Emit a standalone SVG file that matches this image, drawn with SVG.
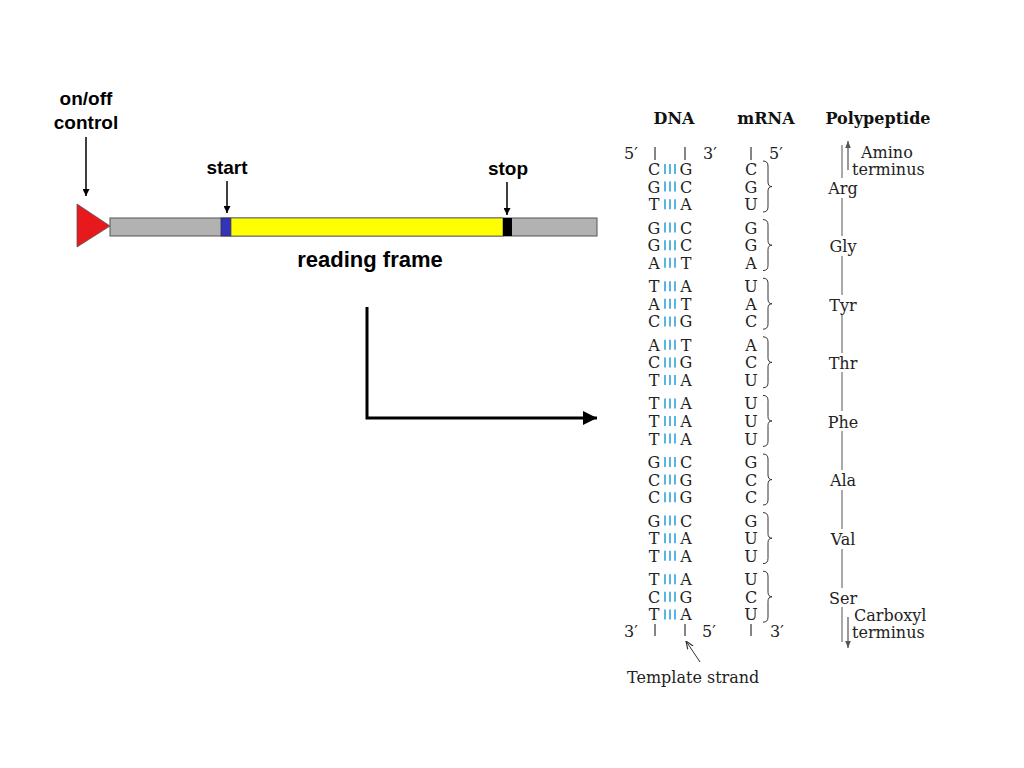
<svg xmlns="http://www.w3.org/2000/svg" width="1024" height="768" viewBox="0 0 1024 768">
<defs>
<marker id="ah" viewBox="0 0 10 10" refX="10" refY="5" markerWidth="7" markerHeight="7" markerUnits="userSpaceOnUse" orient="auto"><path d="M0,0 L10,5 L0,10 z" fill="#000"/></marker>
<marker id="ahBig" viewBox="0 0 10 10" refX="10" refY="5" markerWidth="18" markerHeight="14" markerUnits="userSpaceOnUse" orient="auto"><path d="M0,0 L10,5 L0,10 z" fill="#000"/></marker>
<marker id="ahGray" viewBox="0 0 10 10" refX="10" refY="5" markerWidth="7" markerHeight="7" markerUnits="userSpaceOnUse" orient="auto"><path d="M0,1 L10,5 L0,9 z" fill="#555"/></marker>
<marker id="ahOpen" viewBox="0 0 10 10" refX="10" refY="5" markerWidth="8" markerHeight="8" markerUnits="userSpaceOnUse" orient="auto"><path d="M0,1 L10,5 L0,9" fill="none" stroke="#333" stroke-width="1.5"/></marker>
<g id="hb" stroke="#5ab4e2" stroke-width="2"><line x1="665" y1="-5" x2="665" y2="5"/><line x1="670" y1="-5" x2="670" y2="5"/><line x1="675" y1="-5" x2="675" y2="5"/></g>
<path id="brace" d="M763,-8 Q768,-8 768,-3 L768,13 Q768,17.6 772,17.6 Q768,17.6 768,22 L768,38 Q768,43 763,43" fill="none" stroke="#333" stroke-width="1"/>
</defs>
<style>
.sans{font-family:"Liberation Sans",Arial,sans-serif;font-weight:bold;fill:#000;}
.ser{font-family:"DejaVu Serif","Liberation Serif",serif;font-size:16px;fill:#222;}
.hdr{font-family:"DejaVu Serif","Liberation Serif",serif;font-size:16px;font-weight:bold;fill:#111;}
.thin{stroke:#000;stroke-width:1.5;fill:none;}
.tick{stroke:#333;stroke-width:1.2;}
.pline{stroke:#555;stroke-width:1;}
</style>
<rect width="1024" height="768" fill="#fff"/>

<g id="gene">
<polygon points="77,204 77,247 110,226" fill="#e8191c" stroke="#555" stroke-width="0.8"/>
<rect x="110" y="218" width="487" height="18" fill="#b2b2b2" stroke="#555" stroke-width="1"/>
<rect x="221" y="218" width="10" height="18" fill="#3333bb" stroke="#333" stroke-width="0.8"/>
<rect x="231" y="218" width="272" height="18" fill="#ffff00" stroke="#555" stroke-width="0.8"/>
<rect x="503" y="218" width="9" height="18" fill="#000"/>
</g>

<g id="labels-left">
<text class="sans" x="86" y="105" font-size="19" text-anchor="middle">on/off</text>
<text class="sans" x="86" y="129" font-size="19" text-anchor="middle">control</text>
<text class="sans" x="227" y="174" font-size="19" text-anchor="middle">start</text>
<text class="sans" x="508" y="175" font-size="19" text-anchor="middle">stop</text>
<text class="sans" x="370" y="267" font-size="22" text-anchor="middle">reading frame</text>
</g>

<g id="connectors">
<line class="thin" x1="86" y1="137" x2="86" y2="196" marker-end="url(#ah)"/>
<line class="thin" x1="227" y1="181" x2="227" y2="213" marker-end="url(#ah)"/>
<line class="thin" x1="507" y1="182" x2="507" y2="215" marker-end="url(#ah)"/>
<path d="M367,307 L367,418 L597,418" fill="none" stroke="#000" stroke-width="3" marker-end="url(#ahBig)"/>
</g>

<g id="table">
<text class="hdr" x="674" y="124" text-anchor="middle">DNA</text>
<text class="hdr" x="766" y="124" text-anchor="middle">mRNA</text>
<text class="hdr" x="878" y="124" text-anchor="middle">Polypeptide</text>

<text class="ser" x="631" y="159" text-anchor="middle">5′</text>
<line class="tick" x1="655" y1="147" x2="655" y2="160"/>
<line class="tick" x1="685" y1="147" x2="685" y2="160"/>
<text class="ser" x="710" y="159" text-anchor="middle">3′</text>
<line class="tick" x1="751" y1="147" x2="751" y2="160"/>
<text class="ser" x="776" y="159" text-anchor="middle">5′</text>

<text class="ser" x="631" y="637" text-anchor="middle">3′</text>
<line class="tick" x1="655" y1="624" x2="655" y2="636"/>
<line class="tick" x1="685" y1="624" x2="685" y2="636"/>
<text class="ser" x="709" y="637" text-anchor="middle">5′</text>
<line class="tick" x1="751" y1="624" x2="751" y2="636"/>
<text class="ser" x="777" y="637" text-anchor="middle">3′</text>

<g id="g1" transform="translate(0,169)">
<text class="ser" text-anchor="middle"><tspan x="654" y="6">C</tspan><tspan x="654" y="23.6">G</tspan><tspan x="654" y="41.2">T</tspan></text>
<text class="ser" text-anchor="middle"><tspan x="686" y="6">G</tspan><tspan x="686" y="23.6">C</tspan><tspan x="686" y="41.2">A</tspan></text>
<text class="ser" text-anchor="middle"><tspan x="751" y="6">C</tspan><tspan x="751" y="23.6">G</tspan><tspan x="751" y="41.2">U</tspan></text>
<use href="#hb"/><use href="#hb" y="17.6"/><use href="#hb" y="35.2"/>
<use href="#brace"/>
</g>
<g id="g2" transform="translate(0,227.6)">
<text class="ser" text-anchor="middle"><tspan x="654" y="6">G</tspan><tspan x="654" y="23.6">G</tspan><tspan x="654" y="41.2">A</tspan></text>
<text class="ser" text-anchor="middle"><tspan x="686" y="6">C</tspan><tspan x="686" y="23.6">C</tspan><tspan x="686" y="41.2">T</tspan></text>
<text class="ser" text-anchor="middle"><tspan x="751" y="6">G</tspan><tspan x="751" y="23.6">G</tspan><tspan x="751" y="41.2">A</tspan></text>
<use href="#hb"/><use href="#hb" y="17.6"/><use href="#hb" y="35.2"/>
<use href="#brace"/>
</g>
<g id="g3" transform="translate(0,286.2)">
<text class="ser" text-anchor="middle"><tspan x="654" y="6">T</tspan><tspan x="654" y="23.6">A</tspan><tspan x="654" y="41.2">C</tspan></text>
<text class="ser" text-anchor="middle"><tspan x="686" y="6">A</tspan><tspan x="686" y="23.6">T</tspan><tspan x="686" y="41.2">G</tspan></text>
<text class="ser" text-anchor="middle"><tspan x="751" y="6">U</tspan><tspan x="751" y="23.6">A</tspan><tspan x="751" y="41.2">C</tspan></text>
<use href="#hb"/><use href="#hb" y="17.6"/><use href="#hb" y="35.2"/>
<use href="#brace"/>
</g>
<g id="g4" transform="translate(0,344.8)">
<text class="ser" text-anchor="middle"><tspan x="654" y="6">A</tspan><tspan x="654" y="23.6">C</tspan><tspan x="654" y="41.2">T</tspan></text>
<text class="ser" text-anchor="middle"><tspan x="686" y="6">T</tspan><tspan x="686" y="23.6">G</tspan><tspan x="686" y="41.2">A</tspan></text>
<text class="ser" text-anchor="middle"><tspan x="751" y="6">A</tspan><tspan x="751" y="23.6">C</tspan><tspan x="751" y="41.2">U</tspan></text>
<use href="#hb"/><use href="#hb" y="17.6"/><use href="#hb" y="35.2"/>
<use href="#brace"/>
</g>
<g id="g5" transform="translate(0,403.4)">
<text class="ser" text-anchor="middle"><tspan x="654" y="6">T</tspan><tspan x="654" y="23.6">T</tspan><tspan x="654" y="41.2">T</tspan></text>
<text class="ser" text-anchor="middle"><tspan x="686" y="6">A</tspan><tspan x="686" y="23.6">A</tspan><tspan x="686" y="41.2">A</tspan></text>
<text class="ser" text-anchor="middle"><tspan x="751" y="6">U</tspan><tspan x="751" y="23.6">U</tspan><tspan x="751" y="41.2">U</tspan></text>
<use href="#hb"/><use href="#hb" y="17.6"/><use href="#hb" y="35.2"/>
<use href="#brace"/>
</g>
<g id="g6" transform="translate(0,462)">
<text class="ser" text-anchor="middle"><tspan x="654" y="6">G</tspan><tspan x="654" y="23.6">C</tspan><tspan x="654" y="41.2">C</tspan></text>
<text class="ser" text-anchor="middle"><tspan x="686" y="6">C</tspan><tspan x="686" y="23.6">G</tspan><tspan x="686" y="41.2">G</tspan></text>
<text class="ser" text-anchor="middle"><tspan x="751" y="6">G</tspan><tspan x="751" y="23.6">C</tspan><tspan x="751" y="41.2">C</tspan></text>
<use href="#hb"/><use href="#hb" y="17.6"/><use href="#hb" y="35.2"/>
<use href="#brace"/>
</g>
<g id="g7" transform="translate(0,520.6)">
<text class="ser" text-anchor="middle"><tspan x="654" y="6">G</tspan><tspan x="654" y="23.6">T</tspan><tspan x="654" y="41.2">T</tspan></text>
<text class="ser" text-anchor="middle"><tspan x="686" y="6">C</tspan><tspan x="686" y="23.6">A</tspan><tspan x="686" y="41.2">A</tspan></text>
<text class="ser" text-anchor="middle"><tspan x="751" y="6">G</tspan><tspan x="751" y="23.6">U</tspan><tspan x="751" y="41.2">U</tspan></text>
<use href="#hb"/><use href="#hb" y="17.6"/><use href="#hb" y="35.2"/>
<use href="#brace"/>
</g>
<g id="g8" transform="translate(0,579.2)">
<text class="ser" text-anchor="middle"><tspan x="654" y="6">T</tspan><tspan x="654" y="23.6">C</tspan><tspan x="654" y="41.2">T</tspan></text>
<text class="ser" text-anchor="middle"><tspan x="686" y="6">A</tspan><tspan x="686" y="23.6">G</tspan><tspan x="686" y="41.2">A</tspan></text>
<text class="ser" text-anchor="middle"><tspan x="751" y="6">U</tspan><tspan x="751" y="23.6">C</tspan><tspan x="751" y="41.2">U</tspan></text>
<use href="#hb"/><use href="#hb" y="17.6"/><use href="#hb" y="35.2"/>
<use href="#brace"/>
</g>

<g id="polypeptide">
<line class="pline" x1="842" y1="145" x2="842" y2="178"/>
<line class="pline" x1="842" y1="198" x2="842" y2="236"/>
<line class="pline" x1="842" y1="256" x2="842" y2="295"/>
<line class="pline" x1="842" y1="314" x2="842" y2="353"/>
<line class="pline" x1="842" y1="372" x2="842" y2="411"/>
<line class="pline" x1="842" y1="431" x2="842" y2="470"/>
<line class="pline" x1="842" y1="490" x2="842" y2="529"/>
<line class="pline" x1="842" y1="549" x2="842" y2="588"/>
<line class="pline" x1="842" y1="607" x2="842" y2="642"/>
<text class="ser" x="843" y="194" text-anchor="middle">Arg</text>
<text class="ser" x="843" y="252" text-anchor="middle">Gly</text>
<text class="ser" x="843" y="311" text-anchor="middle">Tyr</text>
<text class="ser" x="843" y="369" text-anchor="middle">Thr</text>
<text class="ser" x="843" y="428" text-anchor="middle">Phe</text>
<text class="ser" x="843" y="486" text-anchor="middle">Ala</text>
<text class="ser" x="843" y="545" text-anchor="middle">Val</text>
<text class="ser" x="843" y="604" text-anchor="middle">Ser</text>
<line x1="848" y1="170" x2="848" y2="141" stroke="#777" stroke-width="1.5" marker-end="url(#ahGray)"/>
<line x1="848" y1="617" x2="848" y2="648" stroke="#777" stroke-width="1.5" marker-end="url(#ahGray)"/>
<text class="ser" x="861" y="158">Amino</text>
<text class="ser" x="852" y="175">terminus</text>
<text class="ser" x="854" y="621">Carboxyl</text>
<text class="ser" x="852" y="638">terminus</text>
</g>

<line x1="700" y1="662" x2="686" y2="641" stroke="#333" stroke-width="1" marker-end="url(#ahOpen)"/>
<text class="ser" x="627" y="683">Template strand</text>
</g>
</svg>
